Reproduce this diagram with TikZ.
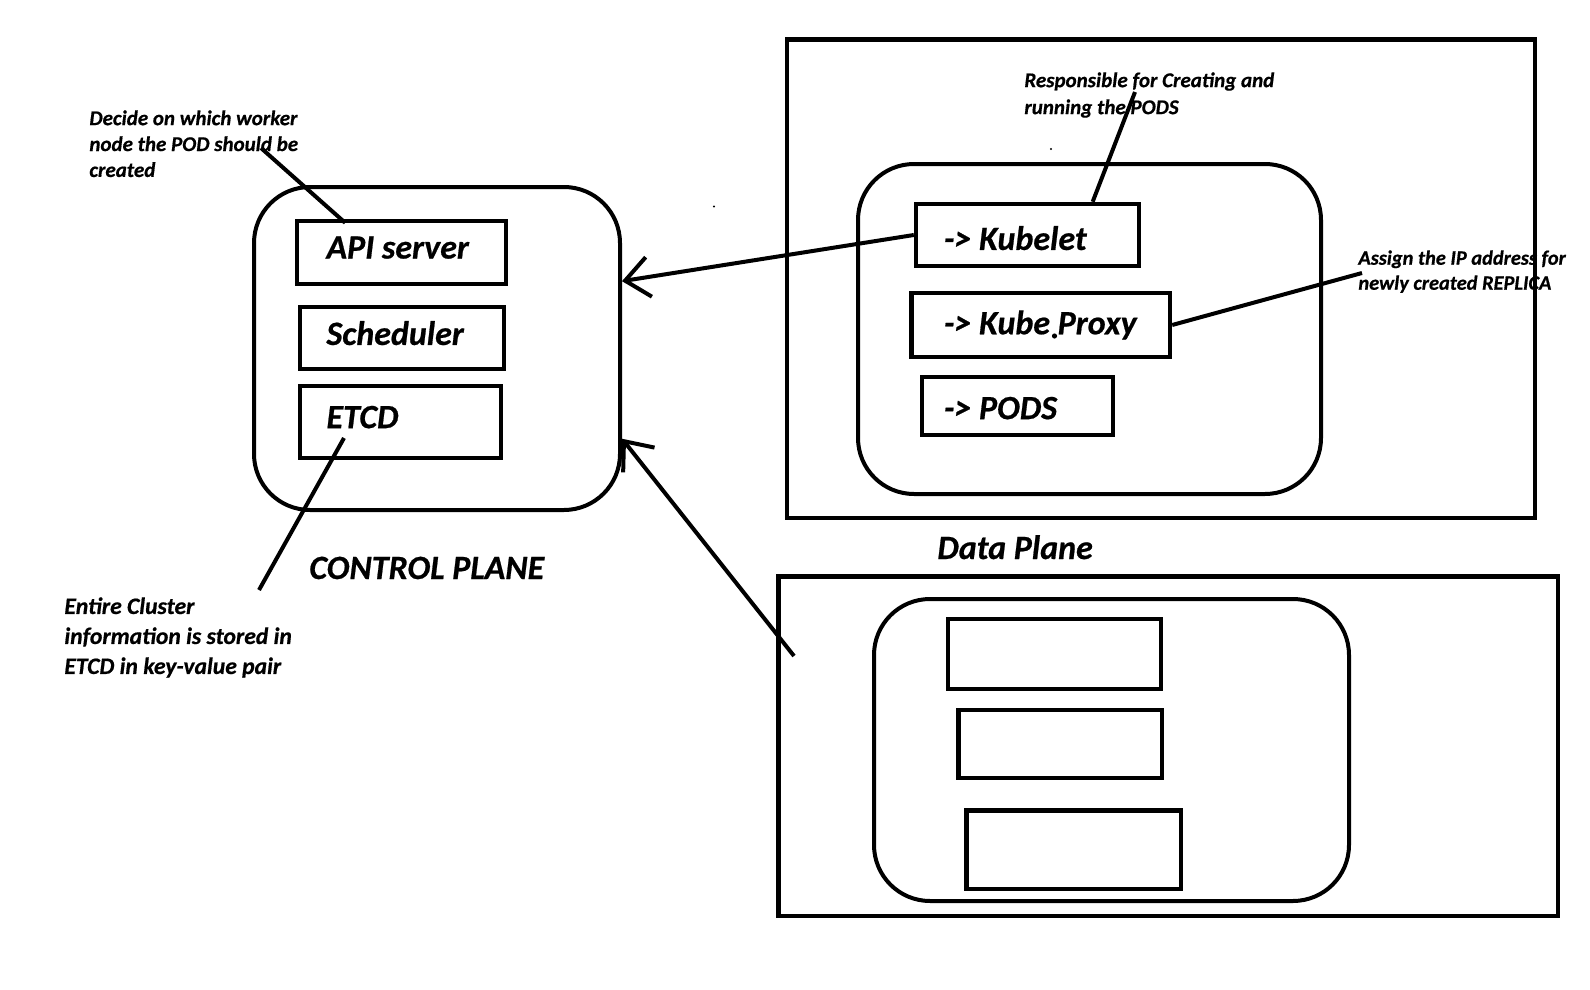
\documentclass[tikz,border=0pt]{standalone}
\usepackage{fontspec}
\setmainfont{Carlito}[BoldItalicFeatures={FakeBold=0.6}]
\usetikzlibrary{arrows.meta,calc}
\newcommand\inbox[3]{\makebox[#1][l]{\hspace*{#2}#3}}
\begin{document}
\begin{tikzpicture}[x=0.5pt,y=-0.5pt,
  every node/.style={font=\bfseries\itshape},
  box/.style={draw, line width=2.2pt, inner sep=0pt},
  rbox/.style={draw, line width=2pt, rounded corners=28pt, inner sep=0pt},
  frame/.style={draw, line width=2.2pt, inner sep=0pt},
  conn/.style={line width=2pt},
  arr/.style={conn, -{Straight Barb[length=12pt,width=20pt]}},
  note/.style={align=left, inner sep=0pt, anchor=north west},
  big/.style={font=\fontsize{17}{20}\selectfont\bfseries\itshape},
  small/.style={font=\fontsize{10.5}{12.95}\selectfont\bfseries\itshape}
]
\useasboundingbox (0,0) rectangle (1590,990);
\fill[white] (0,0) rectangle (1590,990);

% ---------- control plane ----------
\node[rbox, minimum width=183pt, minimum height=161.5pt] (cp) at (437,348.5) {};
\node[box, big, minimum width=104.5pt, minimum height=31.5pt, text depth=5pt] (api) at (401.5,252.5) {\inbox{104.5pt}{14.75pt}{API server}};
\node[box, big, minimum width=102pt, minimum height=31pt, text depth=5pt] (sched) at (402,338) {\inbox{102pt}{13.25pt}{Scheduler}};
\node[box, big, minimum width=100.5pt, minimum height=36pt, text depth=5pt] (etcd) at (400.5,422) {\inbox{100.5pt}{13.25pt}{ETCD}};

\node[big, anchor=base west, inner sep=0pt] (cplabel) at (309,579) {CONTROL PLANE};

\node[note, small] (n1) at (89,110) {Decide on which worker\\node the POD should be\\created};
\node[note, font=\fontsize{11.8}{15}\selectfont\bfseries\itshape] (n2) at (64,597) {Entire Cluster\\information is stored in\\ETCD in key-value pair};

\coordinate (a1) at (261,148);
\draw[conn, shorten >=-3pt] (a1) -- (api.151);
\coordinate (e1) at (344,438);
\coordinate (e2) at (259,590);
\draw[conn] (e1) -- (e2);

% ---------- data plane (upper) ----------
\node[frame, minimum width=374pt, minimum height=239.25pt] (dp1) at (1161,278.75) {};
\node[rbox, minimum width=231.5pt, minimum height=165pt] (w1) at (1089.5,329) {};
\node[box, big, minimum width=111.5pt, minimum height=31pt, text depth=0pt] (kubelet) at (1027.5,235) {\inbox{111.5pt}{14pt}{\raisebox{-1.5pt}[\height][\depth]{-> Kubelet}}};
\node[box, big, minimum width=129.25pt, minimum height=32pt] (kp) at (1040.75,325) {\inbox{129.25pt}{16.25pt}{-> Kube Proxy}};
\node[box, big, minimum width=95.5pt, minimum height=29pt, text depth=0pt] (pods) at (1017.5,406) {\inbox{95.5pt}{11pt}{\raisebox{-1pt}[\height][\depth]{-> PODS}}};
\fill (1054.5,336) circle (1.3pt);

\node[note, font=\fontsize{10.5}{13.5}\selectfont\bfseries\itshape] (n3) at (1024,72) {Responsible for Creating and\\running the PODS};
\node[note, font=\fontsize{10.2}{12.5}\selectfont\bfseries\itshape] (n4) at (1358,250) {Assign the IP address for\\newly created REPLICA};

\coordinate (k1) at (1135,92);
\draw[conn] (kubelet.27.5) -- (k1);
\coordinate (p1) at (1362,273);
\draw[conn] (kp.east) -- (p1);

% stray dots
\fill (714,206.5) circle (0.6pt);
\fill (1051,149) circle (0.6pt);

% ---------- data plane (lower) ----------
\node[big, anchor=base west, inner sep=0pt] (dplabel) at (937,559) {Data Plane};
\node[frame, minimum width=389.75pt, minimum height=169.75pt] (dp2) at (1168.25,746.25) {};
\node[rbox, minimum width=237.5pt, minimum height=151pt] (w2) at (1111.5,750) {};
\node[box, minimum width=106.5pt, minimum height=35pt] (b1) at (1054.5,654) {};
\node[box, minimum width=101.75pt, minimum height=34pt] (b2) at (1060.25,744) {};
\node[box, minimum width=107.25pt, minimum height=39.25pt] (b3) at (1073.75,849.75) {};

% ---------- arrows ----------
\draw[arr] (kubelet.west) -- (cp.20.5);
\coordinate (d1) at (794,656);
\draw[arr] (d1) -- (cp.-26);
\end{tikzpicture}
\end{document}
